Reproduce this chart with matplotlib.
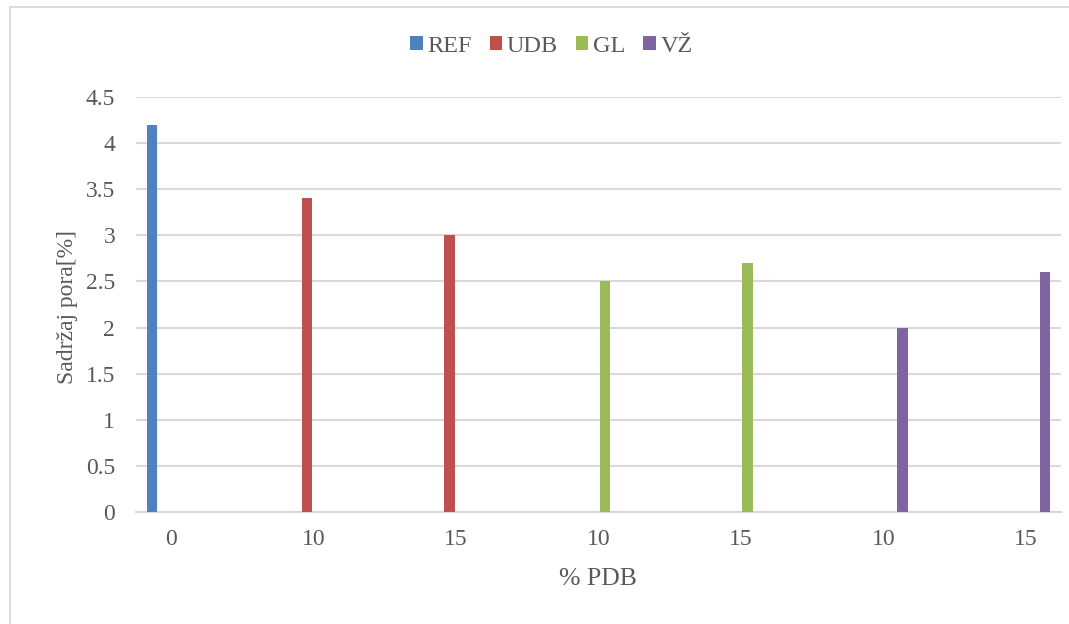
import matplotlib.pyplot as plt
import numpy as np
from matplotlib.patches import Rectangle

# Chart data
categories = ["0", "10", "15", "10", "15", "10", "15"]
series_names = ["REF", "UDB", "GL", "VŽ"]
ref_vals = [4.2, np.nan, np.nan, np.nan, np.nan, np.nan, np.nan]
udb_vals = [np.nan, 3.4, 3.0, np.nan, np.nan, np.nan, np.nan]
gl_vals = [np.nan, np.nan, np.nan, 2.5, 2.7, np.nan, np.nan]
vz_vals = [np.nan, np.nan, np.nan, np.nan, np.nan, 2.0, 2.6]
y_ticks = [0, 0.5, 1, 1.5, 2, 2.5, 3, 3.5, 4, 4.5]
y_tick_labels = ["0", "0.5", "1", "1.5", "2", "2.5", "3", "3.5", "4", "4.5"]

colors = ["#4F81BD", "#C0504D", "#9BBB59", "#8064A2"]
text_color = "#595959"
grid_color = "#D9D9D9"

plt.rcParams["font.family"] = ["Liberation Serif", "DejaVu Serif"]

W, H = 1069, 624
fig = plt.figure(figsize=(W / 100, H / 100), dpi=100)

# chart-area border (only top and left edges fall inside the picture)
fig.patches.append(
    Rectangle((10 / W, -0.05), 1.2, 1 - 7 / H + 0.05, transform=fig.transFigure,
              fill=False, edgecolor=grid_color, linewidth=1.3)
)

ax_l, ax_r, ax_t, ax_b = 136, 1061, 97, 512
ax = fig.add_axes([ax_l / W, 1 - ax_b / H, (ax_r - ax_l) / W, (ax_b - ax_t) / H])

x = np.arange(len(categories))
slot = 0.089
bar_w = 0.074
all_vals = [ref_vals, udb_vals, gl_vals, vz_vals]
for k, (name, vals, col) in enumerate(zip(series_names, all_vals, colors)):
    ax.bar(x + (k - 1.5) * slot, vals, width=bar_w, color=col, label=name, zorder=3)

ax.set_xlim(-0.246, 6.246)
ax.set_ylim(0, 4.5)
ax.set_yticks(y_ticks)
ax.set_yticklabels(y_tick_labels)
ax.set_xticks(x)
ax.set_xticklabels(categories)
ax.tick_params(axis="both", length=0, labelsize=17, colors=text_color)
ax.tick_params(axis="x", pad=12)
ax.tick_params(axis="y", pad=15)
ax.grid(axis="y", color=grid_color, linewidth=1.5, zorder=0)
for s in ["top", "right", "left"]:
    ax.spines[s].set_visible(False)
ax.spines["bottom"].set_color(grid_color)
ax.spines["bottom"].set_linewidth(1.5)

ax.set_ylabel("Sadržaj pora[%]", fontsize=17, color=text_color)
ax.set_xlabel("% PDB", fontsize=18.5, color=text_color)
ax.xaxis.set_label_coords((598 - ax_l) / (ax_r - ax_l), -(568 - ax_b) / (ax_b - ax_t))
ax.yaxis.set_label_coords(-(ax_l - 78) / (ax_r - ax_l), (ax_b - 307) / (ax_b - ax_t))

leg = fig.legend(loc="center", bbox_to_anchor=(551.5 / W, 1 - 46 / H), ncol=4,
                 frameon=False, fontsize=17.5, handlelength=0.5, handleheight=0.5,
                 handletextpad=0.2, columnspacing=0.74, borderpad=0)
for t in leg.get_texts():
    t.set_color(text_color)

fig.savefig("out.png", dpi=100)
